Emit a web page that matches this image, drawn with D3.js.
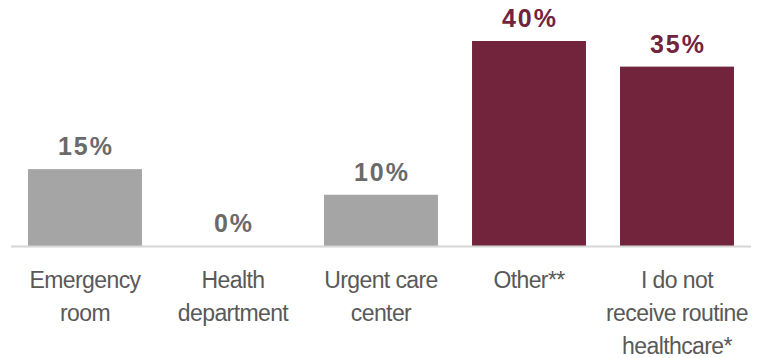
<!DOCTYPE html>
<html>
<head>
<meta charset="utf-8">
<script src="https://cdn.jsdelivr.net/npm/d3@7"></script>
<style>
  html, body { margin: 0; padding: 0; background: #ffffff; }
  svg { display: block; }
</style>
</head>
<body>
<svg id="chart" width="766" height="358"></svg>
<script>
// Where people go for routine healthcare (share of respondents)
const categories = [
  ["Emergency", "room"],
  ["Health", "department"],
  ["Urgent care", "center"],
  ["Other**"],
  ["I do not", "receive routine", "healthcare*"]
];
const values = [15, 0, 10, 40, 35];
const valueLabels = ["15%", "0%", "10%", "40%", "35%"];
const highlighted = [false, false, false, true, true];

const greyBar = "#a5a5a5", maroonBar = "#72243d";
const greyText = "#6a6a6a", maroonText = "#72243d";

const svg = d3.select("#chart");
const baseline = 246;

const x = d3.scaleBand()
  .domain(d3.range(values.length))
  .range([11, 751])
  .paddingInner(0.23)
  .paddingOuter(0.115);

const y = d3.scaleLinear()
  .domain([0, 40])
  .range([baseline, 41]);

// Bars
svg.append("g").selectAll("rect")
  .data(values)
  .join("rect")
  .attr("x", (d, i) => x(i))
  .attr("width", x.bandwidth())
  .attr("y", d => y(d))
  .attr("height", d => baseline - y(d))
  .attr("fill", (d, i) => highlighted[i] ? maroonBar : greyBar);

// Baseline
svg.append("line")
  .attr("x1", 11).attr("x2", 751)
  .attr("y1", baseline + 0.5).attr("y2", baseline + 0.5)
  .attr("stroke", "#d6d6d6")
  .attr("stroke-width", 2);

// Value labels
svg.append("g").selectAll("text")
  .data(values)
  .join("text")
  .attr("x", (d, i) => x(i) + x.bandwidth() / 2 + 1)
  .attr("y", d => y(d) - 14)
  .attr("text-anchor", "middle")
  .attr("font-family", "'Liberation Sans', Arial, sans-serif")
  .attr("font-weight", "bold")
  .attr("font-size", 25)
  .attr("letter-spacing", 2)
  .attr("fill", (d, i) => highlighted[i] ? maroonText : greyText)
  .text((d, i) => valueLabels[i]);

// Category labels
const cat = svg.append("g").selectAll("text")
  .data(categories)
  .join("text")
  .attr("x", (d, i) => x(i) + x.bandwidth() / 2)
  .attr("y", 288)
  .attr("text-anchor", "middle")
  .attr("font-family", "'Liberation Sans', Arial, sans-serif")
  .attr("font-size", 23)
  .attr("letter-spacing", -0.6)
  .attr("fill", "#595959");

cat.selectAll("tspan")
  .data(d => d)
  .join("tspan")
  .attr("x", function () { return d3.select(this.parentNode).attr("x"); })
  .attr("dy", (d, j) => j === 0 ? 0 : 33)
  .text(d => d);
</script>
</body>
</html>
